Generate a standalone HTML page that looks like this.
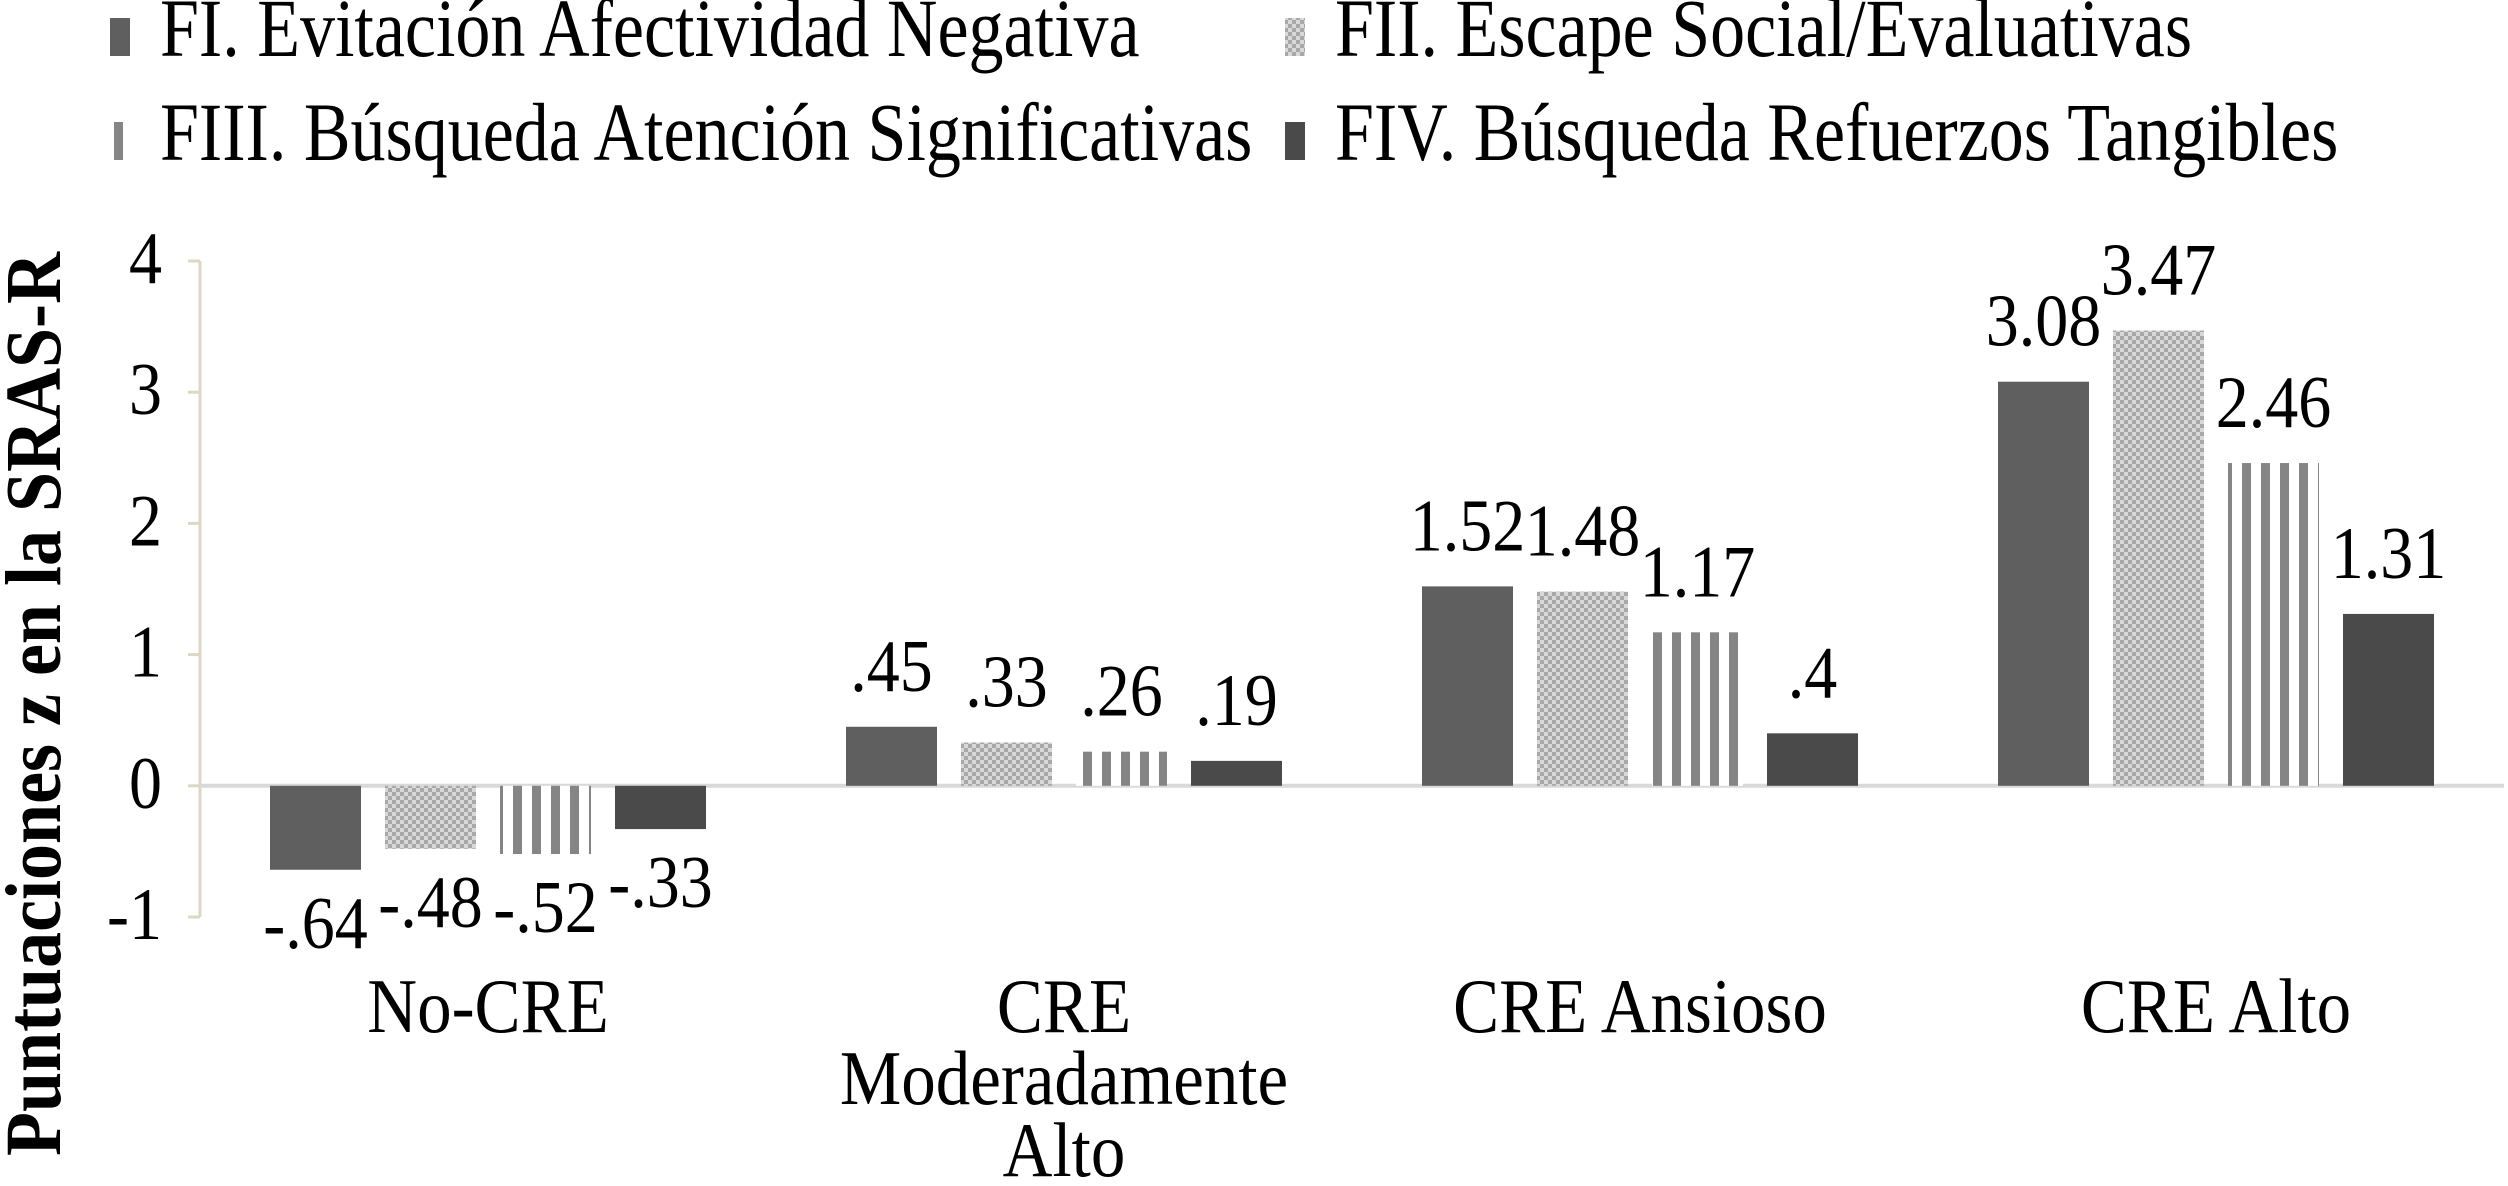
<!DOCTYPE html>
<html><head><meta charset="utf-8">
<style>
html,body{margin:0;padding:0;background:#fff;}
svg{display:block;font-family:"Liberation Serif",serif;}
</style></head>
<body>
<svg id="chart" width="2508" height="1186" viewBox="0 0 2508 1186" xmlns="http://www.w3.org/2000/svg">
<defs>
<pattern id="checker" width="8" height="8" patternUnits="userSpaceOnUse">
<rect width="8" height="8" fill="#d8d8d8"/>
<rect width="4" height="4" fill="#a8a8a8"/>
<rect x="4" y="4" width="4" height="4" fill="#a8a8a8"/>
</pattern>
<pattern id="stripes" width="19" height="10" patternUnits="userSpaceOnUse">
<rect width="19" height="10" fill="#fff"/>
<rect width="9" height="10" fill="#858585"/>
</pattern>
</defs>
<g id="legend"></g>
<g id="axes"></g>
<g id="bars"></g>
<text transform="translate(60,704) rotate(-90) scale(1,1.1)" text-anchor="middle" font-size="72" font-weight="bold">Puntuaciones z en la SRAS-R</text>
</svg>
<script>
const categories = [["No-CRE"], ["CRE", "Moderadamente", "Alto"], ["CRE Ansioso"], ["CRE Alto"]];
const seriesNames = ["FI. Evitación Afectividad Negativa", "FII. Escape Social/Evaluativas", "FIII. Búsqueda Atención Significativas", "FIV. Búsqueda Refuerzos Tangibles"];
const fI = [-0.64, 0.45, 1.52, 3.08];
const fII = [-0.48, 0.33, 1.48, 3.47];
const fIII = [-0.52, 0.26, 1.17, 2.46];
const fIV = [-0.33, 0.19, 0.40, 1.31];
const valueLabels = [["-.64", ".45", "1.52", "3.08"], ["-.48", ".33", "1.48", "3.47"], ["-.52", ".26", "1.17", "2.46"], ["-.33", ".19", ".4", "1.31"]];
const yTicks = [-1, 0, 1, 2, 3, 4];

const NS = "http://www.w3.org/2000/svg";
const series = [fI, fII, fIII, fIV];
const fills = ["#5f5f5f", "url(#checker)", "url(#stripes)", "#4a4a4a"];
const legendFills = ["#5f5f5f", "url(#checker)", "url(#stripes)", "#4a4a4a"];
const plotL = 200, plotR = 2504, yMin = -1, yMax = 4, pxTop = 261, pxBot = 917;
function y(v){ return pxBot - (v - yMin) / (yMax - yMin) * (pxBot - pxTop); }
const groupW = (plotR - plotL) / categories.length;
function xBar(g, s){ return plotL + g * groupW + 70 + s * 115; }
const barW = 91;
function mk(tag, attrs, parent, txt){
  const el = document.createElementNS(NS, tag);
  for (const k in attrs) el.setAttribute(k, attrs[k]);
  if (txt !== undefined) el.textContent = txt;
  parent.appendChild(el);
  return el;
}
function txt(x, yy, size, anchor, parent, s, sy){
  return mk("text", {x: 0, y: 0, transform: "translate(" + x + "," + yy + ") scale(1," + (sy || 1.12) + ")", "text-anchor": anchor, "font-size": size}, parent, s);
}
const axes = document.getElementById("axes");
const bars = document.getElementById("bars");
const legend = document.getElementById("legend");

let ax = mk("line", {x1: plotL, x2: plotL, y1: y(yMax), y2: y(yMin), stroke: "#ddd8c4", "stroke-width": 3}, axes);


yTicks.forEach(t => {
  const tk = mk("line", {x1: plotL - 12, x2: plotL, y1: y(t), y2: y(t), stroke: "#ddd8c4", "stroke-width": 3}, axes);
  
  
  const tl = txt(plotL - 38, y(t) + 22, 66, "end", axes, String(t));
  
  
});

series.forEach((vals, s) => {
  vals.forEach((v, g) => {
    const x = xBar(g, s);
    const top = Math.min(y(v), y(0)), h = Math.abs(y(v) - y(0));
    const r = mk("rect", {x: x, y: top, width: barW, height: h, fill: fills[s]}, bars);
    
    
    const ly = v >= 0 ? y(v) - 36 : y(v) + 78;
    const lb = txt(x + barW / 2, ly, 66, "middle", bars, valueLabels[s][g]);
    
    
  });
});

let bl = mk("line", {x1: plotL, x2: plotR, y1: y(0), y2: y(0), stroke: "#d9d9d9", "stroke-width": 4}, axes);



categories.forEach((lines, g) => {
  const cx = plotL + g * groupW + groupW / 2;
  lines.forEach((ln, i) => {
    const t = txt(cx, 1032 + i * 72, 69, "middle", axes, ln);
    
    
  });
});

const legPos = [[110, 56], [1285, 56], [110, 160], [1285, 160]];
seriesNames.forEach((name, s) => {
  const [lx, lyy] = legPos[s];
  const m = mk("rect", {x: lx, y: lyy - 38, width: 20, height: 38, fill: legendFills[s]}, legend);
  
  
  const t = txt(lx + 50, lyy, 70, "start", legend, name, 1.18);
  
  
});
</script>
</body></html>
